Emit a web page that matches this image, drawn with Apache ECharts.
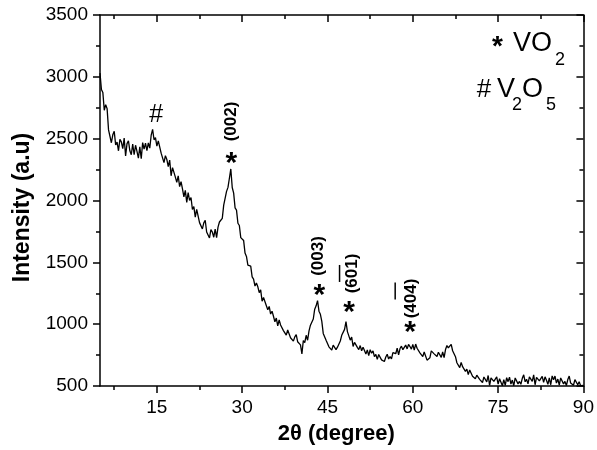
<!DOCTYPE html>
<html><head><meta charset="utf-8">
<script src="https://cdn.jsdelivr.net/npm/echarts@6/dist/echarts.min.js"></script>
<style>html,body{margin:0;padding:0;background:#fff}#c{width:597px;height:450px}</style>
</head><body><div id="c"></div>
<script>
// XRD pattern, sampled every 0.25 degree from 5 to 90 (2-theta)
const twoThetaStart = 5;
const twoThetaStep = 0.25;
const intensity = [
3030,2898,2874,2730, 2775,2743,2571,2556, 2467,2531,2560,2450, 2472,2402,2494,2474,
2419,2505,2360,2460, 2483,2402,2370,2457, 2370,2447,2398,2342, 2433,2338,2468,2416,
2464,2404,2466,2423, 2528,2575,2491,2509, 2440,2482,2495,2383, 2376,2306,2363,2332,
2273,2327,2200,2266, 2270,2189,2147,2199, 2112,2153,2094,2030, 2082,1985,2064,2000,
2024,1927,1951,1865, 1928,1930,1821,1829, 1770,1819,1840,1745, 1756,1697,1765,1745,
1703,1768,1700,1785, 1826,1827,1856,1963, 1970,2074,2106,2180, 2255,2105,2060,1940,
1922,1816,1798,1700, 1708,1677,1575,1548, 1478,1482,1470,1383, 1364,1308,1333,1302,
1255,1277,1185,1215, 1207,1149,1116,1143, 1082,1105,1064,1019, 1049,986,1035,993,
1008,948,964,911, 953,957,890,898, 863,897,915,858, 869,832,760,868,
851,910,870,945, 992,1004,1042,1121, 1148,1190,1105,1080, 1022,925,924,870,
869,817,831,790, 830,842,794,814, 803,864,910,903, 958,1020,940,930,
871,895,820,853, 852,812,794,827, 785,813,787,758, 792,745,794,765,
784,737,756,715, 755,763,711,722, 698,734,757,718, 738,719,770,773,
761,806,752,803, 822,794,787,831, 800,836,819,798, 837,790,839,805,
819,768,783,738, 775,772,709,714, 728,784,795,760, 773,738,773,760,
731,775,730,795, 827,809,812,836, 785,788,737,688, 702,649,691,656,
669,619,636,592, 630,634,579,586, 558,588,602,554, 563,528,573,562,
533,585,505,565, 581,537,521,573, 515,559,531,502, 551,505,567,535,
572,516,548,502, 565,581,517,537, 514,562,590,534, 554,518,574,566,
538,590,510,570, 586,542,526,578, 530,574,546,514, 566,510,582,550,
580,524,556,508, 565,581,517,537, 504,552,580,524, 534,506,552,540,
510,535,503,512,
505
];
const xMajorTicks = [15, 30, 45, 60, 75, 90];
const xMinorTicks = [7.5, 22.5, 37.5, 52.5, 67.5, 82.5];
const xRange = [5, 90];
const yRange = [500, 3500];
const yInterval = 500;

// annotations (data coordinates)
const hklLabels = ['(002)', '(003)', '(601)', '(404)'];
const hklAnchors = [[28.11, 2639], [43.37, 1551], [49.39, 1410], [59.68, 1208]];
const starAnchors = [[28.11, 2356], [43.55, 1284], [48.78, 1147], [59.5, 985]];
const overbarAnchors = [null, null, [47.12, 1410], [56.9, 1268]];
const hashAnchor = [14.86, 2692];

const FONT = '"Liberation Sans", Arial, Helvetica, sans-serif';
const seriesData = intensity.map((v, i) => [twoThetaStart + i * twoThetaStep, v]);

const chart = echarts.init(document.getElementById('c'), null, {renderer: 'canvas'});
const axisLineStyle = {color: '#000', width: 1.5};
const hiddenX = (pos, ticks, len, inside) => ({
  type: 'value', position: pos, min: xRange[0], max: xRange[1],
  axisLine: {show: false}, splitLine: {show: false},
  axisLabel: {show: false},
  axisTick: {show: true, inside: inside, length: len, customValues: ticks, lineStyle: {color: '#000', width: 1.5}}
});
const option = {
  animation: false,
  backgroundColor: '#fff',
  grid: {left: 100, top: 15, right: 10.5, bottom: 64, containLabel: false},
  xAxis: [
    {
      type: 'value', position: 'bottom', min: xRange[0], max: xRange[1],
      name: '2θ (degree)', nameLocation: 'middle', nameGap: 37,
      nameTextStyle: {fontFamily: FONT, fontSize: 22, fontWeight: 'bold', color: '#000', padding: [0, 11, 0, 0]},
      axisLine: {show: true, onZero: false, lineStyle: axisLineStyle},
      axisTick: {show: true, inside: false, length: 7, customValues: xMajorTicks, lineStyle: {color: '#000', width: 1.5}},
      axisLabel: {show: true, customValues: xMajorTicks, margin: 12, fontFamily: FONT, fontSize: 19, color: '#000'},
      splitLine: {show: false}
    },
    hiddenX('bottom', xMinorTicks, 4, false),
    Object.assign(hiddenX('top', xMajorTicks, 7, true), {axisLine: {show: true, onZero: false, lineStyle: axisLineStyle}}),
    hiddenX('top', xMinorTicks, 4, true)
  ],
  yAxis: [
    {
      type: 'value', position: 'left', min: yRange[0], max: yRange[1], interval: yInterval,
      name: 'Intensity (a.u)', nameLocation: 'middle', nameGap: 66, nameRotate: 90,
      nameTextStyle: {fontFamily: FONT, fontSize: 23, fontWeight: 'bold', color: '#000', padding: [0, 14, 0, 0]},
      axisLine: {show: true, onZero: false, lineStyle: axisLineStyle},
      axisTick: {show: true, inside: false, length: 7, lineStyle: {color: '#000', width: 1.5}},
      minorTick: {show: true, splitNumber: 2, length: 4, lineStyle: {color: '#000', width: 1.5}},
      axisLabel: {margin: 12, fontFamily: FONT, fontSize: 19, color: '#000', formatter: v => String(v)},
      splitLine: {show: false}
    },
    {
      type: 'value', position: 'right', min: yRange[0], max: yRange[1], interval: yInterval,
      axisLine: {show: true, onZero: false, lineStyle: axisLineStyle},
      axisTick: {show: true, inside: true, length: 7, lineStyle: {color: '#000', width: 1.5}},
      minorTick: {show: true, splitNumber: 2, length: 4, lineStyle: {color: '#000', width: 1.5}},
      axisLabel: {show: false},
      splitLine: {show: false}
    }
  ],
  series: [{
    type: 'line', xAxisIndex: 0, yAxisIndex: 0, data: seriesData,
    showSymbol: false, symbol: 'none', sampling: null,
    lineStyle: {color: '#000', width: 1.3}, clip: true
  }]
};
chart.setOption(option);

const toPx = p => chart.convertToPixel({xAxisIndex: 0, yAxisIndex: 0}, p);
const txt = (x, y, text, font, extra) => Object.assign({
  type: 'text', x: x, y: y, silent: true, z: 100,
  style: {text: text, font: font, fill: '#000', align: 'center', verticalAlign: 'middle', textAlign: 'center', textVerticalAlign: 'middle'}
}, extra || {});
const graphics = [];
hklLabels.forEach((label, i) => {
  const p = toPx(hklAnchors[i]);
  graphics.push(txt(p[0], p[1], label, 'bold 17px ' + FONT, {rotation: Math.PI / 2}));
  const s = toPx(starAnchors[i]);
  graphics.push(txt(s[0], s[1] + 7, '*', 'bold 30px ' + FONT));
  if (overbarAnchors[i]) {
    const b = toPx(overbarAnchors[i]);
    graphics.push({type: 'rect', silent: true, z: 100, shape: {x: b[0] - 0.75, y: b[1] - 8.5, width: 1.5, height: 17}, style: {fill: '#000'}});
  }
});
const h = toPx(hashAnchor);
graphics.push(txt(h[0], h[1], '#', '25px ' + FONT));

// legend-like notes, top right
const L = (x, y, text, font, align) => {
  const e = txt(x, y, text, font + ' ' + FONT);
  e.style.align = e.style.textAlign = align || 'left';
  return e;
};
graphics.push(L(497.5, 47, '*', 'bold 28px', 'center'));
graphics.push(L(513, 44, 'VO', '27px'));
graphics.push(L(555, 60, '2', '18px'));
graphics.push(L(484, 90, '#', '26px', 'center'));
graphics.push(L(497, 90, 'V', '27px'));
graphics.push(L(512, 105, '2', '18px'));
graphics.push(L(522, 90, 'O', '27px'));
graphics.push(L(546, 105, '5', '18px'));

chart.setOption({graphic: graphics});
</script>
</body></html>
